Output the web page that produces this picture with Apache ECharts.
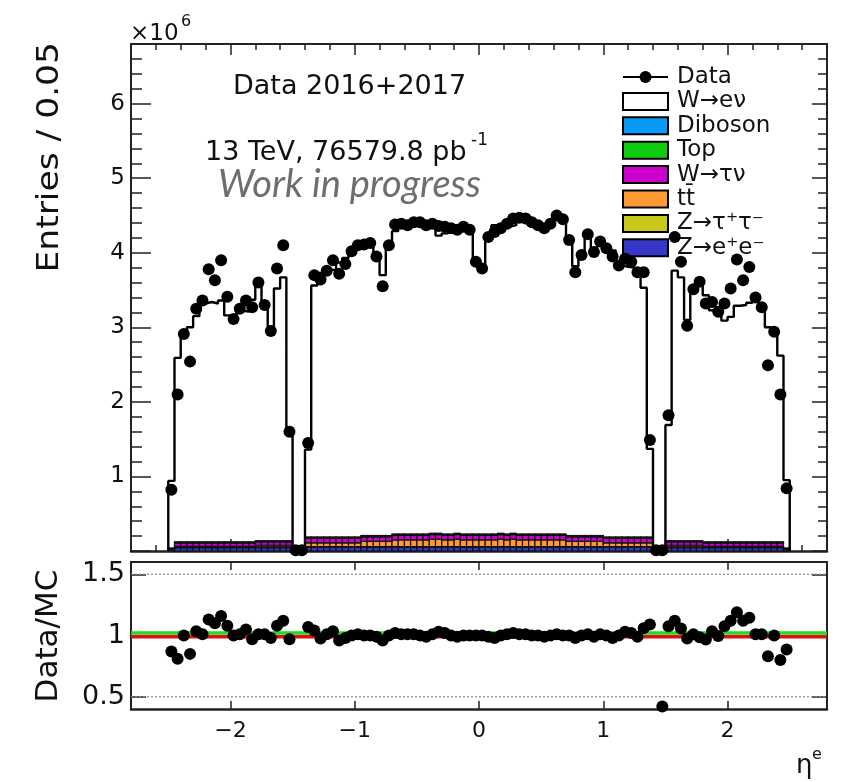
<!DOCTYPE html>
<html><head><meta charset="utf-8">
<script src="https://cdn.jsdelivr.net/npm/echarts@6/dist/echarts.min.js"></script>
<style>html,body{margin:0;padding:0;background:#fff}#c{width:843px;height:782px}</style>
</head><body><div id="c"></div>
<script>
// ---- bin centres of eta (bin width 0.05) ----
const etaCenters = [
-2.475,-2.425,-2.375,-2.325,-2.275,-2.225,-2.175,-2.125,-2.075,-2.025,
-1.975,-1.925,-1.875,-1.825,-1.775,-1.725,-1.675,-1.625,-1.575,-1.525,
-1.475,-1.425,-1.375,-1.325,-1.275,-1.225,-1.175,-1.125,-1.075,-1.025,
-0.975,-0.925,-0.875,-0.825,-0.775,-0.725,-0.675,-0.625,-0.575,-0.525,
-0.475,-0.425,-0.375,-0.325,-0.275,-0.225,-0.175,-0.125,-0.075,-0.025,
0.025,0.075,0.125,0.175,0.225,0.275,0.325,0.375,0.425,0.475,
0.525,0.575,0.625,0.675,0.725,0.775,0.825,0.875,0.925,0.975,
1.025,1.075,1.125,1.175,1.225,1.275,1.325,1.375,1.425,1.475,
1.525,1.575,1.625,1.675,1.725,1.775,1.825,1.875,1.925,1.975,
2.025,2.075,2.125,2.175,2.225,2.275,2.325,2.375,2.425,2.475];

// ---- Data (x10^6 entries) ----
const dataVals = [
0.82,2.10,2.91,2.54,3.25,3.36,3.78,3.63,3.90,3.41,
3.11,3.25,3.36,3.27,3.60,3.30,2.95,3.79,4.10,1.60,
0.01,0.01,1.45,3.70,3.64,3.76,3.90,3.72,3.85,4.02,
4.10,4.11,4.13,3.95,3.55,4.10,4.38,4.39,4.37,4.41,
4.41,4.37,4.39,4.36,4.35,4.33,4.31,4.35,4.31,3.88,
3.79,4.21,4.28,4.33,4.39,4.46,4.47,4.46,4.41,4.37,
4.33,4.39,4.50,4.45,4.17,3.74,3.97,4.25,4.01,4.15,
4.06,3.95,3.83,3.92,3.88,3.74,3.74,1.49,0.01,0.01,
1.82,4.21,3.88,3.02,3.51,3.61,3.32,3.34,3.21,3.32,
3.52,3.91,3.63,3.81,3.40,3.27,2.49,2.94,2.10,0.84];

// ---- total MC (W->enu stacked on backgrounds), x10^6 ----
const mcTotal = [
0.94,2.59,2.88,3.00,3.15,3.32,3.34,3.32,3.36,3.16,
3.11,3.22,3.21,3.37,3.57,3.28,3.01,3.52,3.67,1.65,
0.02,0.02,1.36,3.56,3.73,3.72,3.77,3.87,3.93,4.02,
4.06,4.11,4.13,3.99,3.70,4.10,4.29,4.35,4.33,4.37,
4.41,4.41,4.35,4.23,4.26,4.33,4.35,4.35,4.31,3.88,
3.79,4.25,4.37,4.33,4.35,4.37,4.43,4.42,4.41,4.37,
4.37,4.39,4.46,4.45,4.17,3.82,3.97,4.21,4.05,4.11,
4.06,4.03,3.83,3.81,3.80,3.78,3.53,1.37,0.02,0.02,
1.69,3.76,3.67,3.10,3.48,3.66,3.43,3.23,3.23,3.09,
3.14,3.29,3.30,3.33,3.37,3.24,3.00,2.94,2.62,0.95];

// ---- Data/MC ratio ----
const ratioVals = [
0.87,0.81,1.00,0.85,1.035,1.01,1.13,1.10,1.16,1.08,
1.00,1.01,1.05,0.97,1.01,1.01,0.98,1.08,1.12,0.97,
null,null,1.07,1.04,0.975,1.01,1.035,0.96,0.98,1.00,
1.01,1.00,1.00,0.99,0.96,1.00,1.02,1.01,1.01,1.01,
1.00,0.99,1.01,1.03,1.02,1.00,0.99,1.00,1.00,1.00,
1.00,0.99,0.98,1.00,1.01,1.02,1.01,1.01,1.00,1.00,
0.99,1.00,1.01,1.00,1.00,0.98,1.00,1.01,0.99,1.01,
1.00,0.98,1.00,1.03,1.02,0.99,1.06,1.09,null,0.42,
1.076,1.12,1.057,0.975,1.01,0.986,0.967,1.035,0.995,1.076,
1.12,1.19,1.12,1.145,1.01,1.01,0.83,1.00,0.80,0.885];

// ---- backgrounds (x10^6), stacked bottom -> top ----
const zee = [
0.02,0.045,0.045,0.045,0.045,0.045,0.045,0.045,0.045,0.045,
0.045,0.045,0.045,0.045,0.045,0.045,0.045,0.045,0.045,0.045,
0,0,0.05,0.05,0.05,0.05,0.05,0.05,0.05,0.05,
0.05,0.05,0.05,0.05,0.05,0.05,0.05,0.05,0.05,0.05,
0.05,0.05,0.05,0.05,0.05,0.05,0.05,0.05,0.05,0.05,
0.05,0.05,0.05,0.05,0.05,0.05,0.05,0.05,0.05,0.05,
0.05,0.05,0.05,0.05,0.05,0.05,0.05,0.05,0.05,0.05,
0.05,0.05,0.05,0.05,0.05,0.05,0.05,0.05,0,0,
0.045,0.045,0.045,0.045,0.045,0.045,0.045,0.045,0.045,0.045,
0.045,0.045,0.045,0.045,0.045,0.045,0.045,0.045,0.045,0.02];
const ztautau = [
0.005,0.012,0.012,0.012,0.012,0.012,0.012,0.012,0.012,0.012,
0.012,0.012,0.012,0.012,0.012,0.012,0.012,0.012,0.012,0.012,
0,0,0.01,0.01,0.01,0.01,0.01,0.01,0.01,0.01,
0.01,0.01,0.01,0.01,0.01,0.01,0.01,0.01,0.01,0.01,
0.01,0.01,0.01,0.01,0.01,0.01,0.01,0.01,0.01,0.01,
0.01,0.01,0.01,0.01,0.01,0.01,0.01,0.01,0.01,0.01,
0.01,0.01,0.01,0.01,0.01,0.01,0.01,0.01,0.01,0.01,
0.01,0.01,0.01,0.01,0.01,0.01,0.01,0.01,0,0,
0.012,0.012,0.012,0.012,0.012,0.012,0.012,0.012,0.012,0.012,
0.012,0.012,0.012,0.012,0.012,0.012,0.012,0.012,0.012,0.005];
const ttbar = [
0,0.005,0.005,0.005,0.005,0.005,0.005,0.005,0.005,0.005,
0.005,0.005,0.005,0.005,0.02,0.02,0.02,0.02,0.02,0.02,
0,0,0.05,0.05,0.05,0.05,0.05,0.05,0.05,0.05,
0.05,0.07,0.07,0.07,0.07,0.07,0.09,0.09,0.09,0.09,
0.09,0.09,0.10,0.10,0.09,0.09,0.10,0.09,0.09,0.09,
0.09,0.09,0.09,0.10,0.09,0.10,0.09,0.09,0.09,0.09,
0.09,0.09,0.09,0.09,0.07,0.07,0.07,0.07,0.07,0.07,
0.05,0.05,0.05,0.05,0.05,0.05,0.05,0.05,0,0,
0.02,0.02,0.02,0.02,0.02,0.02,0.005,0.005,0.005,0.005,
0.005,0.005,0.005,0.005,0.005,0.005,0.005,0.005,0.005,0];
const wtaunu = [
0.01,0.045,0.045,0.045,0.045,0.045,0.045,0.045,0.045,0.045,
0.045,0.045,0.045,0.045,0.045,0.045,0.045,0.045,0.045,0.045,
0,0,0.06,0.06,0.06,0.06,0.06,0.06,0.06,0.06,
0.06,0.06,0.06,0.06,0.06,0.06,0.06,0.06,0.06,0.06,
0.06,0.06,0.06,0.06,0.06,0.06,0.06,0.06,0.06,0.06,
0.06,0.06,0.06,0.06,0.06,0.06,0.06,0.06,0.06,0.06,
0.06,0.06,0.06,0.06,0.06,0.06,0.06,0.06,0.06,0.06,
0.06,0.06,0.06,0.06,0.06,0.06,0.06,0.06,0,0,
0.045,0.045,0.045,0.045,0.045,0.045,0.045,0.045,0.045,0.045,
0.045,0.045,0.045,0.045,0.045,0.045,0.045,0.045,0.045,0.01];
const topq = [
0.002,0.01,0.01,0.01,0.01,0.01,0.01,0.01,0.01,0.01,
0.01,0.01,0.01,0.01,0.01,0.01,0.01,0.01,0.01,0.01,
0,0,0.012,0.012,0.012,0.012,0.012,0.012,0.012,0.012,
0.012,0.012,0.012,0.012,0.012,0.012,0.012,0.012,0.012,0.012,
0.012,0.012,0.012,0.012,0.012,0.012,0.012,0.012,0.012,0.012,
0.012,0.012,0.012,0.012,0.012,0.012,0.012,0.012,0.012,0.012,
0.012,0.012,0.012,0.012,0.012,0.012,0.012,0.012,0.012,0.012,
0.012,0.012,0.012,0.012,0.012,0.012,0.012,0.012,0,0,
0.01,0.01,0.01,0.01,0.01,0.01,0.01,0.01,0.01,0.01,
0.01,0.01,0.01,0.01,0.01,0.01,0.01,0.01,0.01,0.002];
const diboson = [
0.001,0.006,0.006,0.006,0.006,0.006,0.006,0.006,0.006,0.006,
0.006,0.006,0.006,0.006,0.006,0.006,0.006,0.006,0.006,0.006,
0,0,0.006,0.006,0.006,0.006,0.006,0.006,0.006,0.006,
0.006,0.006,0.006,0.006,0.006,0.006,0.006,0.006,0.006,0.006,
0.006,0.006,0.006,0.006,0.006,0.006,0.006,0.006,0.006,0.006,
0.006,0.006,0.006,0.006,0.006,0.006,0.006,0.006,0.006,0.006,
0.006,0.006,0.006,0.006,0.006,0.006,0.006,0.006,0.006,0.006,
0.006,0.006,0.006,0.006,0.006,0.006,0.006,0.006,0,0,
0.006,0.006,0.006,0.006,0.006,0.006,0.006,0.006,0.006,0.006,
0.006,0.006,0.006,0.006,0.006,0.006,0.006,0.006,0.006,0.001];

// ---- tick labels ----
const xTickLabels = [-2,-1,0,1,2];
const yTickLabels = [1,2,3,4,5,6];
const ratioTickLabels = [0.5,1,1.5];
const ratioGuideLines = [0.5,1.5];
const ratioRefLines = [{y:1.02,color:'#1fdc1f'},{y:0.99,color:'#e01010'}];

const legendItems = [
  {name:'Data', type:'marker'},
  {name:'W\u2192e\u03bd', color:'#ffffff'},
  {name:'Diboson', color:'#0a99f5'},
  {name:'Top', color:'#0fcc0f'},
  {name:'W\u2192\u03c4\u03bd', color:'#cc00cc'},
  {name:'tt\u0304', color:'#ff9933'},
  {name:'Z\u2192\u03c4\u207a\u03c4\u207b', color:'#c8c81a'},
  {name:'Z\u2192e\u207ae\u207b', color:'#3535c8'}
];

const FONT = 'DejaVu Sans';
const AX = '#222';
const X_MIN = -2.8, X_MAX = 2.8, BIN_HALF = 0.025;

function minorVals(lo, hi, step, skipEvery) {
  const out = [];
  for (let k = Math.round(lo/step); k <= Math.round(hi/step); k++) {
    const v = +(k*step).toFixed(4);
    if (Math.abs(v/skipEvery - Math.round(v/skipEvery)) < 1e-6) continue;
    out.push(v);
  }
  return out;
}
const xMinor = minorVals(X_MIN, X_MAX, 0.2, 1);
const yMinor = minorVals(0.2, 6.8, 0.2, 1);

function mkX(gridIndex, position, ticks, len, lineOn, labels, lw) {
  return {gridIndex, type:'value', position, min:X_MIN, max:X_MAX,
    axisLine:{show:lineOn, onZero:false, lineStyle:{color:AX, width:lw||2}},
    axisTick:{show:true, inside:true, length:len, customValues:ticks, lineStyle:{color:AX, width:1.5}},
    axisLabel: labels ? {show:true, customValues:labels, fontFamily:FONT, fontSize:22, color:'#111', margin:11,
        formatter: v => (v < 0 ? '\u2212' + Math.abs(v) : String(v))} : {show:false},
    splitLine:{show:false}, minorTick:{show:false}};
}
function mkY(gridIndex, position, min, max, ticks, len, lineOn, labels, fs) {
  return {gridIndex, type:'value', position, min, max,
    axisLine:{show:lineOn, onZero:false, lineStyle:{color:AX, width:2}},
    axisTick:{show:true, inside:true, length:len, customValues:ticks, lineStyle:{color:AX, width:1.5}},
    axisLabel: labels ? {show:true, customValues:labels, fontFamily:FONT, fontSize:fs, color:'#111', margin:6} : {show:false},
    splitLine:{show:false}, minorTick:{show:false}};
}

// stacked backgrounds
const stackDefs = [
  {vals:zee, color:'#3535c8'},
  {vals:ztautau, color:'#c8c81a'},
  {vals:ttbar, color:'#ff9933'},
  {vals:wtaunu, color:'#cc00cc'},
  {vals:topq, color:'#0fcc0f'},
  {vals:diboson, color:'#0a99f5'}
];
let base = etaCenters.map(() => 0);
const stackSeries = stackDefs.map(d => {
  const items = etaCenters.map((e, i) => [e, base[i], base[i] + d.vals[i]]);
  base = base.map((b, i) => b + d.vals[i]);
  return {type:'custom', xAxisIndex:0, yAxisIndex:0, data:items, encode:{x:0, y:[1,2]},
    silent:true, z:2,
    renderItem:(params, api) => {
      const e = api.value(0), lo = api.value(1), hi = api.value(2);
      if (!(hi > lo)) return null;
      const p0 = api.coord([e - BIN_HALF, lo]);
      const p1 = api.coord([e + BIN_HALF, hi]);
      return {type:'rect', shape:{x:p0[0], y:p1[1], width:p1[0]-p0[0], height:Math.max(p0[1]-p1[1], 0.6)},
        style:{fill:d.color, stroke:'#111', lineWidth:1.2}};
    }};
});

// W->enu outline as step histogram
const stepPts = [[etaCenters[0]-BIN_HALF, 0]];
etaCenters.forEach((e, i) => stepPts.push([e - BIN_HALF, mcTotal[i]]));
stepPts.push([etaCenters[etaCenters.length-1] + BIN_HALF, mcTotal[mcTotal.length-1]]);
stepPts.push([etaCenters[etaCenters.length-1] + BIN_HALF, 0]);

const series = [
  ...stackSeries,
  {type:'line', xAxisIndex:0, yAxisIndex:0, step:'end', data:stepPts, symbol:'none',
   lineStyle:{color:'#000', width:2.4}, z:3, silent:true},
  {type:'scatter', xAxisIndex:0, yAxisIndex:0, data:etaCenters.map((e,i)=>[e, dataVals[i]]),
   symbol:'circle', symbolSize:12, itemStyle:{color:'#000', opacity:1}, clip:false, z:5, silent:true},
  ...ratioGuideLines.map(y => ({type:'line', xAxisIndex:4, yAxisIndex:4, data:[[X_MIN,y],[X_MAX,y]],
    symbol:'none', lineStyle:{color:'#8a8a8a', width:1.2, type:[2,2]}, z:1, silent:true})),
  ...ratioRefLines.map(r => ({type:'line', xAxisIndex:4, yAxisIndex:4, data:[[X_MIN,r.y],[X_MAX,r.y]],
    symbol:'none', lineStyle:{color:r.color, width:3.5}, z:2, silent:true})),
  {type:'scatter', xAxisIndex:4, yAxisIndex:4,
   data:etaCenters.map((e,i)=>[e, ratioVals[i]]).filter(p => p[1] !== null),
   symbol:'circle', symbolSize:12, itemStyle:{color:'#000', opacity:1}, clip:false, z:5, silent:true}
];

// legend + texts as graphic
const graphic = [];
const LX0 = 623, LW = 45, LTX = 677, LY0 = 77, LDY = 24.4;
legendItems.forEach((it, k) => {
  const cy = LY0 + k*LDY;
  if (it.type === 'marker') {
    graphic.push({type:'line', shape:{x1:LX0, y1:cy, x2:LX0+LW, y2:cy}, style:{stroke:'#000', lineWidth:2}});
    graphic.push({type:'circle', shape:{cx:LX0+LW/2, cy:cy, r:6}, style:{fill:'#000'}});
  } else {
    graphic.push({type:'rect', shape:{x:LX0, y:cy-8.5, width:LW, height:17}, style:{fill:it.color, stroke:'#000', lineWidth:2}});
  }
  graphic.push({type:'text', x:LTX, y:cy, style:{text:it.name, font:'23px "DejaVu Sans"', fill:'#111', align:'left', verticalAlign:'middle'}});
});
graphic.push(
  {type:'text', x:130, y:34, style:{text:'\u00d710', font:'23px "DejaVu Sans"', fill:'#111', align:'left', verticalAlign:'middle'}},
  {type:'text', x:181, y:22, style:{text:'6', font:'16px "DejaVu Sans"', fill:'#111', align:'left', verticalAlign:'middle'}},
  {type:'text', x:233, y:87, style:{text:'Data 2016+2017', font:'27px "DejaVu Sans"', fill:'#111', align:'left', verticalAlign:'middle'}},
  {type:'text', x:205, y:153, style:{text:'13 TeV, 76579.8 pb', font:'27px "DejaVu Sans"', fill:'#111', align:'left', verticalAlign:'middle'}},
  {type:'text', x:471, y:141, style:{text:'-1', font:'17px "DejaVu Sans"', fill:'#111', align:'left', verticalAlign:'middle'}},
  {type:'text', x:218, y:185, style:{text:'Work in progress', font:'italic 38px Lato', fill:'#6e6e6e', align:'left', verticalAlign:'middle'}},
  {type:'text', x:50, y:42, rotation:Math.PI/2, scaleX:1.15, style:{text:'Entries / 0.05', font:'30px "DejaVu Sans"', fill:'#111', align:'right', verticalAlign:'middle'}},
  {type:'text', x:49, y:636, rotation:Math.PI/2, style:{text:'Data/MC', font:'31px "DejaVu Sans"', fill:'#111', align:'center', verticalAlign:'middle'}},
  {type:'text', x:796, y:766, style:{text:'\u03b7', font:'26px "DejaVu Sans"', fill:'#111', align:'left', verticalAlign:'middle'}},
  {type:'text', x:812, y:755, style:{text:'e', font:'16px "DejaVu Sans"', fill:'#111', align:'left', verticalAlign:'middle'}}
);

const option = {
  animation:false,
  backgroundColor:'#fff',
  grid:[
    {left:131, top:44, width:696, height:507, outerBoundsMode:'none'},
    {left:131, top:562, width:696, height:147, outerBoundsMode:'none'}
  ],
  xAxis:[
    mkX(0,'bottom',xTickLabels,12,true,null,2.5),
    mkX(0,'bottom',xMinor,6,false,null),
    mkX(0,'top',xTickLabels,11,true,null),
    mkX(0,'top',xMinor,6,false,null),
    mkX(1,'bottom',xTickLabels,8,true,xTickLabels,2.5),
    mkX(1,'top',xTickLabels,8,true,null)
  ],
  yAxis:[
    mkY(0,'left',0,6.8,[0].concat(yTickLabels),20,true,yTickLabels,23),
    mkY(0,'left',0,6.8,yMinor,11,false,null),
    mkY(0,'right',0,6.8,[0].concat(yTickLabels),15,true,null),
    mkY(0,'right',0,6.8,yMinor,9,false,null),
    mkY(1,'left',0.4,1.6,ratioTickLabels,15,true,ratioTickLabels,27),
    mkY(1,'right',0.4,1.6,ratioTickLabels,15,true,null)
  ],
  series,
  graphic
};
const chart = echarts.init(document.getElementById('c'), null, {renderer:'canvas'});
chart.setOption(option);
</script></body></html>
